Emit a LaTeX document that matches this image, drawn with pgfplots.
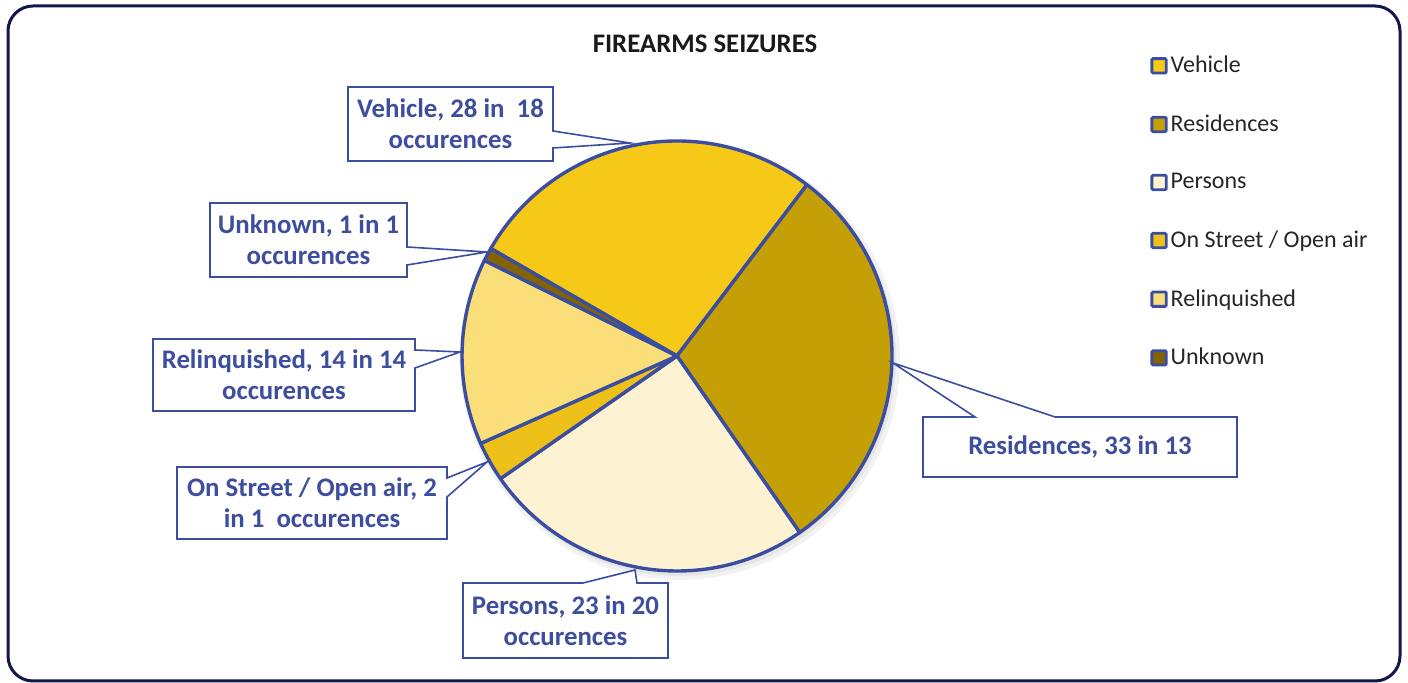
\documentclass[border=0pt]{standalone}
\usepackage{pgfplots}
\pgfplotsset{compat=1.18}
\usepackage{pgfplotstable}
\usepackage{fontspec}
\setmainfont{Carlito}

\definecolor{cVeh}{HTML}{F6C918}
\definecolor{cRes}{HTML}{C49F05}
\definecolor{cPer}{HTML}{FDF3D3}
\definecolor{cStr}{HTML}{EEC11A}
\definecolor{cRel}{HTML}{F9DE7A}
\definecolor{cUnk}{HTML}{836400}
\definecolor{pieborder}{HTML}{3A4DA0}
\definecolor{labelblue}{HTML}{3D4E9E}
\definecolor{frame}{HTML}{12174A}

% slice sizes as drawn (labels carry the reported counts)
\pgfplotstableread{
name value col
Vehicle 27 cVeh
Residences 30 cRes
Persons 25 cPer
Street 3 cStr
Relinquished 14 cRel
Unknown 1 cUnk
}\piedata

\begin{document}
\begin{tikzpicture}
\begin{axis}[
    x=0.5pt, y=0.5pt,
    xmin=0, xmax=1408, ymin=0, ymax=683,
    hide axis, clip=false,
    legend cell align=left,
    legend image code/.code={\draw[#1, draw=pieborder, line width=1.4pt, rounded corners=0.6pt] (0pt,-3.6pt) rectangle (7.2pt,3.6pt);},
    legend style={at={(axis description cs:0.8168,0.923)}, anchor=north west,
        draw=none, fill=none, inner sep=0pt, row sep=16.5pt,
        font=\fontsize{12}{14}\selectfont, text=black!85,
        nodes={inner sep=1.5pt}},
]
\path (axis cs:0,0) rectangle (axis cs:1408,683);
\draw[frame, line width=1.5pt, rounded corners=12.5pt] (axis cs:8,2) rectangle (axis cs:1400,677);

\node[font=\bfseries\fontsize{13.4}{15}\selectfont, text=black!90] at (axis cs:705,639) {FIREARMS SEIZURES};

% soft shadow under the pie
\fill[black, opacity=0.05] (axis cs:680,323) circle[radius=110pt];
\fill[black, opacity=0.05] (axis cs:679,324) circle[radius=108.5pt];

% pie slices, clockwise from 150 degrees
\def\pietotal{0}
\pgfplotsforeachungrouped \i in {0,...,5}{%
  \pgfplotstablegetelem{\i}{value}\of\piedata \let\pv\pgfplotsretval
  \pgfmathsetmacro\pietotal{\pietotal+\pv}%
}
\def\pieangle{150}
\pgfplotsforeachungrouped \i in {0,...,5}{%
  \pgfplotstablegetelem{\i}{value}\of\piedata \let\pv\pgfplotsretval
  \pgfplotstablegetelem{\i}{col}\of\piedata \let\pc\pgfplotsretval
  \pgfmathsetmacro\pieend{\pieangle-360*\pv/\pietotal}%
  \edef\temp{\noexpand\filldraw[fill=\pc, draw=pieborder, line width=1.7pt, line join=round]
    (axis cs:677,327) -- ++(\pieangle:107.5pt) arc[start angle=\pieangle, end angle=\pieend, radius=107.5pt] -- cycle;}%
  \temp
  \let\pieangle\pieend
}

\addlegendimage{fill=cVeh}\addlegendentry{Vehicle}
\addlegendimage{fill=cRes}\addlegendentry{Residences}
\addlegendimage{fill=cPer}\addlegendentry{Persons}
\addlegendimage{fill=cStr}\addlegendentry{On Street / Open air}
\addlegendimage{fill=cRel}\addlegendentry{Relinquished}
\addlegendimage{fill=cUnk}\addlegendentry{Unknown}

% callouts
\tikzset{callout/.style={fill=white, draw=pieborder, line width=0.8pt, line join=miter},
         lbl/.style={font=\bfseries\fontsize{13.4}{15.5}\selectfont, text=labelblue, align=center}}
\filldraw[callout] (axis cs:348,596) -- (axis cs:553,596) -- (axis cs:553,552) -- (axis cs:630,540)
   -- (axis cs:553,535) -- (axis cs:553,522) -- (axis cs:348,522) -- cycle;
\node[lbl] at (axis cs:450.5,559) {Vehicle, 28 in\ \ 18\\occurences};

\filldraw[callout] (axis cs:210,480) -- (axis cs:407,480) -- (axis cs:407,436) -- (axis cs:487,431)
   -- (axis cs:407,418) -- (axis cs:407,406) -- (axis cs:210,406) -- cycle;
\node[lbl] at (axis cs:308.5,443) {Unknown, 1 in 1\\occurences};

\filldraw[callout] (axis cs:153,344) -- (axis cs:415,344) -- (axis cs:415,333) -- (axis cs:460,331)
   -- (axis cs:415,315) -- (axis cs:415,272) -- (axis cs:153,272) -- cycle;
\node[lbl] at (axis cs:284,308) {Relinquished, 14 in 14\\occurences};

\filldraw[callout] (axis cs:177,216) -- (axis cs:447,216) -- (axis cs:447,205) -- (axis cs:487,221)
   -- (axis cs:447,186) -- (axis cs:447,144) -- (axis cs:177,144) -- cycle;
\node[lbl] at (axis cs:312,180) {On Street / Open air, 2\\in 1\ \ occurences};

\filldraw[callout] (axis cs:463,100) -- (axis cs:583,100) -- (axis cs:635,113) -- (axis cs:637,100)
   -- (axis cs:668,100) -- (axis cs:668,25) -- (axis cs:463,25) -- cycle;
\node[lbl] at (axis cs:565.5,62.5) {Persons, 23 in 20\\occurences};

\filldraw[callout] (axis cs:923,266) -- (axis cs:975,266) -- (axis cs:893,320) -- (axis cs:1055,266)
   -- (axis cs:1237,266) -- (axis cs:1237,206) -- (axis cs:923,206) -- cycle;
\node[lbl] at (axis cs:1080,236) {Residences, 33 in 13};
\end{axis}
\end{tikzpicture}
\end{document}
